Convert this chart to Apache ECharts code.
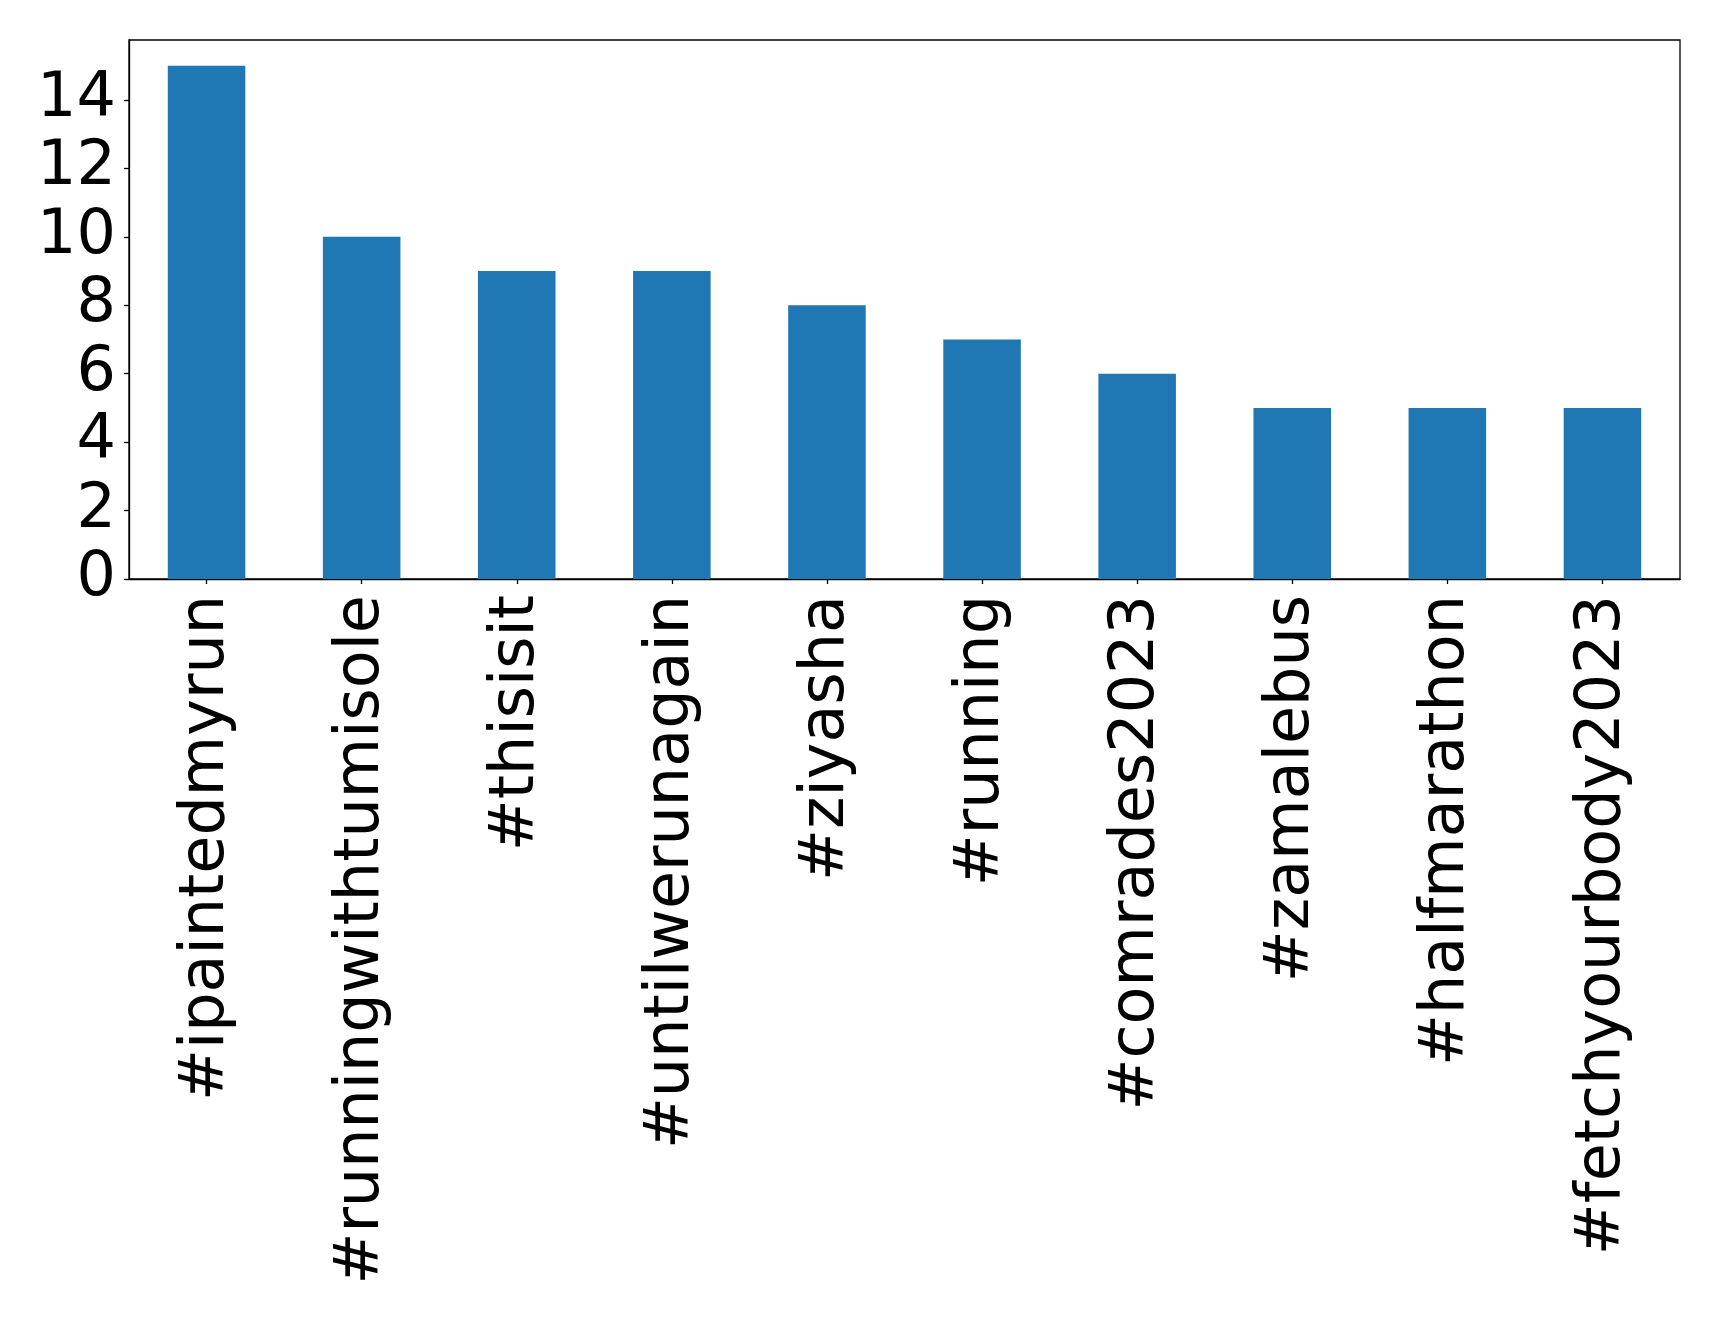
<!DOCTYPE html>
<html>
<head>
<meta charset="utf-8">
<script src="https://cdn.jsdelivr.net/npm/echarts@6/dist/echarts.min.js"></script>
<style>
html,body{margin:0;padding:0;background:#fff;}
#chart{width:1719px;height:1323px;}
</style>
</head>
<body>
<div id="chart"></div>
<script>
const categories = ['#ipaintedmyrun','#runningwithtumisole','#thisisit','#untilwerunagain','#ziyasha','#running','#comrades2023','#zamalebus','#halfmarathon','#fetchyourbody2023'];
const counts = [15, 10, 9, 9, 8, 7, 6, 5, 5, 5];
const yTicks = [0, 2, 4, 6, 8, 10, 12, 14];

const chart = echarts.init(document.getElementById('chart'), null, {renderer: 'canvas'});
const font = 'DejaVu Sans';
chart.setOption({
  animation: false,
  backgroundColor: '#ffffff',
  grid: {
    left: 129, right: 39, top: 40, bottom: 744,
    show: true, borderColor: '#000', borderWidth: 1.3, backgroundColor: 'transparent'
  },
  xAxis: {
    type: 'category',
    data: categories,
    boundaryGap: true,
    axisLine: {show: true, lineStyle: {color: '#000', width: 1.3}},
    axisTick: {show: true, alignWithLabel: true, length: 5, lineStyle: {color: '#000', width: 1.3}},
    axisLabel: {rotate: 90, interval: 0, margin: 16, color: '#000', fontSize: 62, fontFamily: font, padding: [10, 0, 0, 0]}
  },
  yAxis: {
    type: 'value',
    min: 0, max: 15.75, interval: 2,
    splitLine: {show: false},
    axisLine: {show: true, lineStyle: {color: '#000', width: 1.3}},
    axisTick: {show: true, length: 5, lineStyle: {color: '#000', width: 1.3}, customValues: yTicks},
    axisLabel: {color: '#000', fontSize: 62, fontFamily: font, margin: 13, customValues: yTicks}
  },
  series: [{
    type: 'bar',
    data: counts,
    barWidth: '50%',
    itemStyle: {color: '#1f77b4'}
  }]
});
</script>
</body>
</html>
